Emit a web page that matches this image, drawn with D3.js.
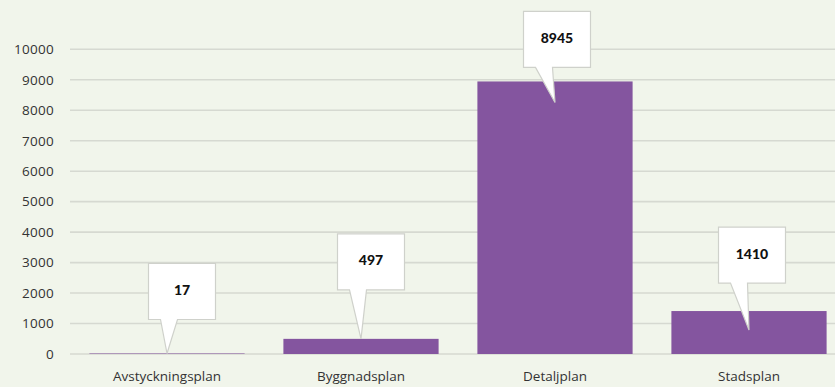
<!DOCTYPE html>
<html>
<head>
<meta charset="utf-8">
<script src="https://cdn.jsdelivr.net/npm/d3@7/dist/d3.min.js"></script>
<style>
  html, body { margin: 0; padding: 0; background: #f1f5eb; }
  svg { display: block; }
</style>
</head>
<body>
<svg id="chart" width="835" height="387"></svg>
<script>
// ---- data ----
const categories = ["Avstyckningsplan", "Byggnadsplan", "Detaljplan", "Stadsplan"];
const values = [17, 497, 8945, 1410];
const yTicks = [0, 1000, 2000, 3000, 4000, 5000, 6000, 7000, 8000, 9000, 10000];

// ---- callout layout (style, not data) ----
const calloutLift = [34, 49, 14, 28];   // box bottom above bar top
const calloutTipDrop = [0, 0, 21, 19];  // pointer tip below bar top
const calloutShift = [15, 10, 2, 3];    // box centre right of pointer tip

const W = 835, H = 387;
const svg = d3.select("#chart");
svg.append("rect").attr("width", W).attr("height", H).attr("fill", "#f1f5eb");

const x = d3.scaleBand().domain(categories).range([70, 846]).paddingInner(0.2).paddingOuter(0.1);
const y = d3.scaleLinear().domain([0, 10000]).range([354, 49.3]);

const font = "'Open Sans', 'Lato', sans-serif";

// grid
svg.append("g").selectAll("line").data(yTicks).join("line")
  .attr("x1", 70).attr("x2", W)
  .attr("y1", d => y(d)).attr("y2", d => y(d))
  .attr("stroke", "#d6d9d1").attr("stroke-width", 1.6);

// y axis labels
const yAxis = d3.axisLeft(y).tickValues(yTicks).tickSize(0).tickPadding(0).tickFormat(d3.format("d"));
const gy = svg.append("g").attr("transform", "translate(54,0)").call(yAxis);
gy.select(".domain").remove();
gy.selectAll("text").attr("font-family", font).attr("font-size", 13.5).attr("fill", "#333")
  .attr("letter-spacing", 0.3);

// bars
svg.append("g").selectAll("rect").data(values).join("rect")
  .attr("x", (d, i) => x(categories[i]))
  .attr("width", x.bandwidth())
  .attr("y", d => y(d))
  .attr("height", d => y(0) - y(d))
  .attr("fill", "#84559f");

// x axis labels
const xAxis = d3.axisBottom(x).tickSize(0).tickPadding(0);
const gx = svg.append("g").attr("transform", "translate(0,371)").call(xAxis);
gx.select(".domain").remove();
gx.selectAll("text").attr("font-family", font).attr("font-size", 13.5).attr("fill", "#333");

// callouts
const boxW = 67, boxH = 56;
const cg = svg.append("g").selectAll("g").data(values).join("g");
cg.each(function(d, i) {
  const g = d3.select(this);
  const tipX = x(categories[i]) + x.bandwidth() / 2;
  const tipY = y(d) + calloutTipDrop[i];
  const bottom = y(d) - calloutLift[i];
  const top = bottom - boxH;
  const left = tipX + calloutShift[i] - boxW / 2;
  const right = left + boxW;
  const b1 = left + 12, b2 = left + 29;
  const p = d3.path();
  p.moveTo(left, top);
  p.lineTo(right, top);
  p.lineTo(right, bottom);
  p.lineTo(b2, bottom);
  p.lineTo(tipX, tipY);
  p.lineTo(b1, bottom);
  p.lineTo(left, bottom);
  p.closePath();
  g.append("path").attr("d", p.toString())
    .attr("fill", "#ffffff").attr("stroke", "#cfd1cb").attr("stroke-width", 1.2)
    .attr("stroke-linejoin", "miter");
  g.append("text")
    .attr("x", (left + right) / 2).attr("y", top + 28)
    .attr("text-anchor", "middle").attr("dominant-baseline", "middle")
    .attr("font-family", "'Lato', sans-serif").attr("font-weight", "900").attr("font-size", 14)
    .attr("fill", "#111")
    .text(d);
});
</script>
</body>
</html>
